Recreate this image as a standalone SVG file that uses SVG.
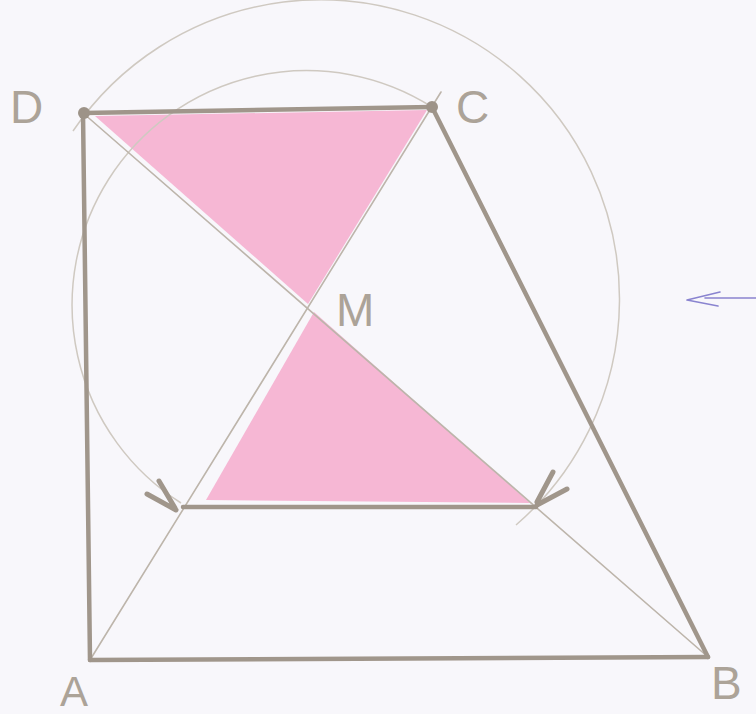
<svg xmlns="http://www.w3.org/2000/svg" width="756" height="714" viewBox="0 0 756 714">
<style>
.bg{fill:#f8f7fb}
.thick{stroke:#a0968b;stroke-width:4.5;stroke-linecap:round;fill:none}
.thin{stroke:#bdb5ab;stroke-width:1.6;stroke-linecap:round;fill:none}
.arc{stroke:#cfc9c1;stroke-width:1.5;fill:none}
.tick{stroke:#a0968b;stroke-width:5;stroke-linecap:round;fill:none}
.pink{fill:#f5afcf;opacity:0.9}
.lbl{font-family:"Liberation Sans",Arial,sans-serif;font-size:46px;fill:#aca398}
.dot{fill:#9d9388}
.blue{stroke:#8a84d0;stroke-width:1.6;fill:none;stroke-linecap:round;stroke-linejoin:round}
</style>
<rect class="bg" x="0" y="0" width="756" height="714"/>
<g id="shading">
<polygon class="pink" points="95,116 427,110 308,304"/>
<polygon class="pink" points="314,312 206,500 530,503"/>
</g>
<g id="connectors">
<path class="arc" d="M 73,131 A 299 299 0 1 1 516,525"/>
<path class="arc" d="M 432,107 A 234 234 0 1 0 181,503"/>
<line class="thin" x1="90" y1="660" x2="441" y2="92"/>
<line class="thin" x1="708" y1="657" x2="83" y2="113"/>
<line class="thick" x1="83" y1="113" x2="90" y2="660"/>
<line class="thick" x1="90" y1="660" x2="708" y2="657"/>
<line class="thick" x1="708" y1="657" x2="432" y2="107"/>
<line class="thick" x1="83" y1="113" x2="432" y2="107"/>
<line class="thick" x1="183" y1="507" x2="536" y2="507"/>
<path class="tick" d="M 147,494 L 176,510 M 159,481 L 175,508"/>
<path class="tick" d="M 553,472 L 537,502 M 567,489 L 537,505"/>
<path class="blue" d="M 756,298 L 705,298 M 720,292 L 687,300 L 718,306"/>
</g>
<g id="node-D"><circle class="dot" cx="84" cy="113" r="6"/><text class="lbl" x="10" y="123">D</text></g>
<g id="node-C"><circle class="dot" cx="432" cy="107" r="6"/><text class="lbl" x="456" y="123">C</text></g>
<g id="node-M"><text class="lbl" x="336" y="326">M</text></g>
<g id="node-A"><text class="lbl" x="60" y="706" style="font-size:42px">A</text></g>
<g id="node-B"><text class="lbl" x="711" y="699">B</text></g>
</svg>
